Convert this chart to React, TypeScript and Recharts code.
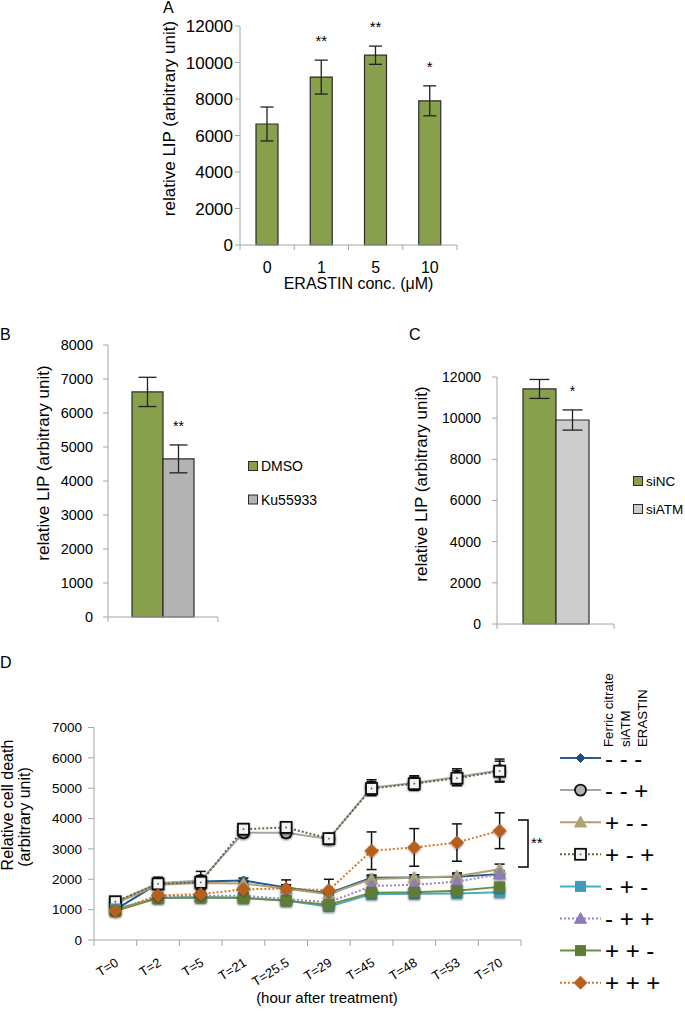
import React from 'react';
import { BarChart, Bar, XAxis, YAxis, ErrorBar, LabelList, Legend, LineChart, Line } from 'recharts';

const FONT = '"Liberation Sans", Arial, Helvetica, sans-serif';
const AXIS = '#A6A6A6';
const INK = '#000000';
const GREEN = '#88A04B';
const BAR_EDGE = '#2B2B2B';

// ---------- Panel A ----------
const erastinConc = ['0', '1', '5', '10'];
const lipByErastin = [6630, 9200, 10400, 7900];
const lipByErastinErr = [930, 930, 500, 820];
const lipByErastinSig = ['', '**', '**', '*'];
const lipTicksA = [0, 2000, 4000, 6000, 8000, 10000, 12000];

// ---------- Panel B ----------
const inhibitorGroups = ['DMSO', 'Ku55933'];
const lipByInhibitor = [6620, 4650];
const lipByInhibitorErr = [430, 410];
const lipByInhibitorSig = ['', '**'];
const lipTicksB = [0, 1000, 2000, 3000, 4000, 5000, 6000, 7000, 8000];

// ---------- Panel C ----------
const sirnaGroups = ['siNC', 'siATM'];
const lipBySirna = [11420, 9910];
const lipBySirnaErr = [460, 490];
const lipBySirnaSig = ['', '*'];
const lipTicksC = [0, 2000, 4000, 6000, 8000, 10000, 12000];

// ---------- Panel D ----------
const timePoints = ['T=0', 'T=2', 'T=5', 'T=21', 'T=25.5', 'T=29', 'T=45', 'T=48', 'T=53', 'T=70'];
const deathTicks = [0, 1000, 2000, 3000, 4000, 5000, 6000, 7000];
const conditionLabels = ['- - -', '- - +', '+ - -', '+ - +', '- + -', '- + +', '+ + -', '+ + +'];
const deathNone = [1000, 1860, 1930, 1960, 1730, 1540, 2050, 2060, 2080, 2170];
const deathNoneErr = [50, 90, 90, 80, 90, 70, 90, 90, 90, 100];
const deathErastin = [1250, 1870, 1960, 3530, 3530, 3330, 5020, 5170, 5370, 5580];
const deathErastinErr = [110, 200, 300, 150, 150, 130, 260, 240, 270, 380];
const deathFerric = [1200, 1820, 1880, 1860, 1690, 1510, 2010, 2050, 2100, 2330];
const deathFerricErr = [60, 90, 90, 80, 80, 80, 100, 100, 110, 170];
const deathFerricErastin = [1260, 1850, 1900, 3650, 3710, 3340, 4990, 5150, 5330, 5560];
const deathFerricErastinErr = [100, 170, 220, 180, 170, 150, 230, 220, 250, 330];
const deathSiatm = [1020, 1380, 1410, 1390, 1300, 1100, 1510, 1520, 1530, 1570];
const deathSiatmErr = [40, 60, 60, 60, 60, 60, 60, 60, 60, 60];
const deathSiatmErastin = [990, 1440, 1460, 1460, 1350, 1240, 1780, 1820, 1920, 2170];
const deathSiatmErastinErr = [40, 70, 70, 70, 70, 70, 80, 80, 80, 90];
const deathFerricSiatm = [950, 1380, 1400, 1380, 1290, 1160, 1560, 1570, 1620, 1750];
const deathFerricSiatmErr = [40, 60, 60, 60, 60, 60, 70, 70, 70, 80];
const deathAll = [960, 1470, 1510, 1670, 1690, 1640, 2940, 3050, 3210, 3600];
const deathAllErr = [60, 80, 90, 110, 290, 360, 620, 620, 615, 590];

const seriesD = [
  { key: 'none', values: deathNone, errs: deathNoneErr },
  { key: 'erastin', values: deathErastin, errs: deathErastinErr },
  { key: 'ferric', values: deathFerric, errs: deathFerricErr },
  { key: 'ferricErastin', values: deathFerricErastin, errs: deathFerricErastinErr },
  { key: 'siatm', values: deathSiatm, errs: deathSiatmErr },
  { key: 'siatmErastin', values: deathSiatmErastin, errs: deathSiatmErastinErr },
  { key: 'ferricSiatm', values: deathFerricSiatm, errs: deathFerricSiatmErr },
  { key: 'all', values: deathAll, errs: deathAllErr },
];

// styles (separate from data)
const stylesD: any[] = [
  { line: '#2A5A8C', dash: undefined, shape: 'diamond', size: 4.5, fill: '#1F4E79', stroke: '#1F4E79', sw: 1 },
  { line: '#A5A5A5', dash: undefined, shape: 'circle', size: 5.5, fill: '#B4B4B4', stroke: '#111111', sw: 1.8 },
  { line: '#ADA274', dash: undefined, shape: 'triangle', size: 6, fill: '#ADA274', stroke: '#ADA274', sw: 1 },
  { line: '#6E6446', dash: '2 2', shape: 'openSquare', size: 5.5, fill: '#F4F4F4', stroke: '#111111', sw: 1.8 },
  { line: '#4BACC6', dash: undefined, shape: 'square', size: 5, fill: '#3E9CB8', stroke: '#3E9CB8', sw: 1 },
  { line: '#9A86C2', dash: '2 2', shape: 'triangle', size: 6, fill: '#8F7BBA', stroke: '#8F7BBA', sw: 1 },
  { line: '#6E8F44', dash: undefined, shape: 'square', size: 5, fill: '#5E7D34', stroke: '#5E7D34', sw: 1 },
  { line: '#D27A2E', dash: '2 2', shape: 'diamond', size: 6.5, fill: '#B95F1E', stroke: '#B95F1E', sw: 1 },
];

// ---------- tables ----------
const tableA = erastinConc.map((c, i) => ({ conc: c, lip: lipByErastin[i], err: lipByErastinErr[i] }));
const tableB = [{
  grp: 'B',
  [inhibitorGroups[0]]: lipByInhibitor[0], e0: lipByInhibitorErr[0],
  [inhibitorGroups[1]]: lipByInhibitor[1], e1: lipByInhibitorErr[1],
}];
const tableC = [{
  grp: 'C',
  [sirnaGroups[0]]: lipBySirna[0], e0: lipBySirnaErr[0],
  [sirnaGroups[1]]: lipBySirna[1], e1: lipBySirnaErr[1],
}];
const tableD = timePoints.map((t, j) => {
  const row: any = { time: t };
  seriesD.forEach((s) => {
    row[s.key] = s.values[j];
    row[s.key + 'Err'] = s.errs[j];
  });
  return row;
});

// ---------- helpers ----------
const makeSigLabel = (sigs: string[], errs: number[], fontSize: number) => (props: any) => {
  const vb = props.viewBox || {};
  const x = props.x ?? vb.x;
  const y = props.y ?? vb.y;
  const w = props.width ?? vb.width;
  const h = props.height ?? vb.height;
  const idx = props.index ?? 0;
  const v = Number(props.value);
  const s = sigs[idx];
  if (!s || !v || x == null || y == null) return null;
  const pxPer = h / v;
  const errTop = y - errs[idx] * pxPer;
  return (
    <text key={'sig' + idx} x={x + w / 2} y={errTop - 14} textAnchor="middle" fontSize={fontSize} fill={INK} fontFamily={FONT}>
      {s}
    </text>
  );
};

const makeBandTick = (band: number, n: number, tickSize: number, margin: number, fontSize: number, showText: boolean) =>
  (props: any) => {
    const { x, y, payload, index } = props;
    const axisY = y - tickSize - margin;
    const half = band / 2;
    return (
      <g>
        <line x1={x - half} x2={x - half} y1={axisY} y2={axisY + tickSize} stroke={AXIS} />
        {index === n - 1 && <line x1={x + half} x2={x + half} y1={axisY} y2={axisY + tickSize} stroke={AXIS} />}
        {showText && (
          <text x={x} y={y} dy="0.71em" textAnchor="middle" fontSize={fontSize} fill={INK} fontFamily={FONT}>
            {payload.value}
          </text>
        )}
      </g>
    );
  };

function Marker(props: any) {
  const { shape, cx, cy, size, fill, stroke, sw, filter } = props;
  if (cx == null || cy == null) return null;
  if (shape === 'diamond') {
    return <path d={`M${cx},${cy - size}L${cx + size},${cy}L${cx},${cy + size}L${cx - size},${cy}Z`} fill={fill} stroke={stroke} strokeWidth={sw} filter={filter} />;
  }
  if (shape === 'circle') {
    return <circle cx={cx} cy={cy} r={size} fill={fill} stroke={stroke} strokeWidth={sw} filter={filter} />;
  }
  if (shape === 'triangle') {
    return <path d={`M${cx},${cy - size}L${cx + size},${cy + size * 0.8}L${cx - size},${cy + size * 0.8}Z`} fill={fill} stroke={stroke} strokeWidth={sw} filter={filter} />;
  }
  if (shape === 'openSquare') {
    return (
      <g filter={filter}>
        <rect x={cx - size} y={cy - size} width={size * 2} height={size * 2} fill={fill} stroke={stroke} strokeWidth={sw} />
        <circle cx={cx} cy={cy} r={0.9} fill="#555" />
      </g>
    );
  }
  return <rect x={cx - size} y={cy - size} width={size * 2} height={size * 2} fill={fill} stroke={stroke} strokeWidth={sw} filter={filter} />;
}

// ---------- Panel A ----------
const A_W = 685, A_H = 300;
const A_MARGIN = { top: 26, right: 228, bottom: 25, left: 160 };
const A_YW = 80;
const A_BAND = (A_W - A_MARGIN.left - A_YW - A_MARGIN.right) / erastinConc.length;

function PanelA() {
  return (
    <BarChart width={A_W} height={A_H} data={tableA} margin={A_MARGIN}>
      <XAxis dataKey="conc" height={30} axisLine={{ stroke: AXIS }} tickLine={false} tickSize={5} tickMargin={12} interval={0}
        tick={makeBandTick(A_BAND, erastinConc.length, 5, 12, 16, true)} />
      <YAxis domain={[0, 12000]} ticks={lipTicksA} width={A_YW} interval={0} tickSize={5} tickMargin={2}
        axisLine={{ stroke: AXIS }} tickLine={{ stroke: AXIS }} tick={{ fontSize: 17, fill: INK, fontFamily: FONT }} />
      <Bar dataKey="lip" fill={GREEN} stroke={BAR_EDGE} strokeWidth={1.2} barSize={22} isAnimationActive={false}>
        <ErrorBar dataKey="err" width={6.5} stroke="#222" strokeWidth={1.3} direction="y" />
        <LabelList dataKey="lip" content={makeSigLabel(lipByErastinSig, lipByErastinErr, 15)} />
      </Bar>
    </BarChart>
  );
}

// ---------- Panel B ----------
const B_W = 360, B_H = 350;
const B_MARGIN = { top: 55, right: 142, bottom: 15, left: 48 };
const B_YW = 60;
const B_BAND = B_W - B_MARGIN.left - B_YW - B_MARGIN.right;
const B_COLORS = [GREEN, '#B3B3B3'];

const swatchLegend = (labels: string[], colors: string[], rowGap: number, fontSize: number) => () => (
  <svg width={110} height={rowGap + 24} style={{ overflow: 'visible', display: 'block' }}>
    {labels.map((l, i) => (
      <g key={l}>
        <rect x={0.5} y={6.5 + i * rowGap} width={9} height={9} fill={colors[i]} stroke={BAR_EDGE} strokeWidth={1} />
        <text x={13} y={11 + i * rowGap} dominantBaseline="central" fontSize={fontSize} fill={INK} fontFamily={FONT}>{l}</text>
      </g>
    ))}
  </svg>
);

function PanelB() {
  return (
    <BarChart width={B_W} height={B_H} data={tableB} margin={B_MARGIN} barGap={0}>
      <XAxis dataKey="grp" height={8} axisLine={{ stroke: AXIS }} tickLine={false} tickSize={5} tickMargin={0} interval={0}
        tick={makeBandTick(B_BAND, 1, 5, 0, 12, false)} />
      <YAxis domain={[0, 8000]} ticks={lipTicksB} width={B_YW} interval={0} tickSize={5} tickMargin={10}
        axisLine={{ stroke: AXIS }} tickLine={{ stroke: AXIS }} tick={{ fontSize: 14.5, fill: INK, fontFamily: FONT }} />
      <Bar dataKey={inhibitorGroups[0]} name={inhibitorGroups[0]} fill={B_COLORS[0]} stroke={BAR_EDGE} strokeWidth={1.2} barSize={31} isAnimationActive={false}>
        <ErrorBar dataKey="e0" width={9} stroke="#222" strokeWidth={1.3} direction="y" />
      </Bar>
      <Bar dataKey={inhibitorGroups[1]} name={inhibitorGroups[1]} fill={B_COLORS[1]} stroke={BAR_EDGE} strokeWidth={1.2} barSize={31} isAnimationActive={false}>
        <ErrorBar dataKey="e1" width={9} stroke="#222" strokeWidth={1.3} direction="y" />
        <LabelList dataKey={inhibitorGroups[1]} content={makeSigLabel([lipByInhibitorSig[1]], [lipByInhibitorErr[1]], 14)} />
      </Bar>
      <Legend layout="vertical" align="center" verticalAlign="middle"
        wrapperStyle={{ left: 248, top: 165, width: 110, height: 60 }}
        content={swatchLegend(inhibitorGroups, B_COLORS, 33.5, 14)} />
    </BarChart>
  );
}

// ---------- Panel C ----------
const C_W = 325, C_H = 350;
const C_MARGIN = { top: 87, right: 71, bottom: 10, left: 77 };
const C_YW = 60;
const C_BAND = C_W - C_MARGIN.left - C_YW - C_MARGIN.right;
const C_COLORS = [GREEN, '#CCCCCC'];

function PanelC() {
  return (
    <BarChart width={C_W} height={C_H} data={tableC} margin={C_MARGIN} barGap={0}>
      <XAxis dataKey="grp" height={6} axisLine={{ stroke: AXIS }} tickLine={false} tickSize={5} tickMargin={0} interval={0}
        tick={makeBandTick(C_BAND, 1, 5, 0, 12, false)} />
      <YAxis domain={[0, 12000]} ticks={lipTicksC} width={C_YW} interval={0} tickSize={5} tickMargin={11}
        axisLine={{ stroke: AXIS }} tickLine={{ stroke: AXIS }} tick={{ fontSize: 14, fill: INK, fontFamily: FONT }} />
      <Bar dataKey={sirnaGroups[0]} name={sirnaGroups[0]} fill={C_COLORS[0]} stroke={BAR_EDGE} strokeWidth={1.2} barSize={33} isAnimationActive={false}>
        <ErrorBar dataKey="e0" width={10} stroke="#222" strokeWidth={1.3} direction="y" />
      </Bar>
      <Bar dataKey={sirnaGroups[1]} name={sirnaGroups[1]} fill={C_COLORS[1]} stroke={BAR_EDGE} strokeWidth={1.2} barSize={33} isAnimationActive={false}>
        <ErrorBar dataKey="e1" width={10} stroke="#222" strokeWidth={1.3} direction="y" />
        <LabelList dataKey={sirnaGroups[1]} content={makeSigLabel([lipBySirnaSig[1]], [lipBySirnaErr[1]], 14)} />
      </Bar>
      <Legend layout="vertical" align="center" verticalAlign="middle"
        wrapperStyle={{ left: 273, top: 180, width: 52, height: 60 }}
        content={swatchLegend(sirnaGroups, C_COLORS, 28, 13.5)} />
    </BarChart>
  );
}

// ---------- Panel D ----------
const D_W = 685, D_H = 393;
const D_MARGIN = { top: 107.5, right: 164, bottom: 43, left: 38 };
const D_YW = 56;
const D_PLOT_W = D_W - D_MARGIN.left - D_YW - D_MARGIN.right;
const D_HALF = D_PLOT_W / timePoints.length / 2;

const timeTick = (props: any) => {
  const { x, y, payload, index } = props;
  const axisY = y - 6;
  return (
    <g>
      <line x1={x - D_HALF} x2={x - D_HALF} y1={axisY} y2={axisY + 6} stroke={AXIS} />
      {index === timePoints.length - 1 && <line x1={x + D_HALF} x2={x + D_HALF} y1={axisY} y2={axisY + 6} stroke={AXIS} />}
      <text x={x + 4} y={axisY + 25} transform={`rotate(-32, ${x + 4}, ${axisY + 25})`} textAnchor="end" fontSize={13} fill={INK} fontFamily={FONT}>
        {payload.value}
      </text>
    </g>
  );
};

const DLegend = () => (
  <svg width={135} height={350} style={{ overflow: 'visible', display: 'block' }} fontFamily={FONT}>
    <text transform="translate(63,97) rotate(-90)" fontSize={13.3} fill={INK}>Ferric citrate</text>
    <text transform="translate(79.5,97) rotate(-90)" fontSize={13.3} fill={INK}>siATM</text>
    <text transform="translate(96.5,97) rotate(-90)" fontSize={13.3} fill={INK}>ERASTIN</text>
    {seriesD.map((s, i) => {
      const st = stylesD[i];
      const y = 108 + 32.1 * i;
      return (
        <g key={s.key}>
          <line x1={10} x2={51} y1={y} y2={y} stroke={st.line} strokeWidth={2} strokeDasharray={st.dash} />
          <Marker shape={st.shape} cx={30.5} cy={y} size={st.size} fill={st.fill} stroke={st.stroke} sw={st.sw} />
          <text x={55} y={y} dominantBaseline="central" fontSize={24} fill={INK}>{conditionLabels[i]}</text>
        </g>
      );
    })}
  </svg>
);

function PanelD() {
  return (
    <LineChart width={D_W} height={D_H} data={tableD} margin={D_MARGIN}>
      <XAxis dataKey="time" height={30} padding={{ left: D_HALF, right: D_HALF }} axisLine={{ stroke: AXIS }} tickLine={false}
        tickSize={6} tickMargin={0} interval={0} tick={timeTick} />
      <YAxis domain={[0, 7000]} ticks={deathTicks} width={D_YW} interval={0} tickSize={6} tickMargin={6}
        axisLine={{ stroke: AXIS }} tickLine={{ stroke: AXIS }} tick={{ fontSize: 13.5, fill: INK, fontFamily: FONT }} />
      {seriesD.map((s, i) => {
        const st = stylesD[i];
        return (
          <Line key={s.key} dataKey={s.key} name={conditionLabels[i]} stroke={st.line} strokeWidth={2}
            strokeDasharray={st.dash} isAnimationActive={false} activeDot={false}
            dot={(p: any) => (
              <Marker key={`${s.key}-${p.index}`} shape={st.shape} cx={p.cx} cy={p.cy} size={st.size}
                fill={st.fill} stroke={st.stroke} sw={st.sw} filter="url(#mshadow)" />
            )}>
            <ErrorBar dataKey={s.key + 'Err'} width={5} stroke="#111" strokeWidth={1.5} direction="y" />
          </Line>
        );
      })}
      <Legend layout="vertical" align="center" verticalAlign="middle"
        wrapperStyle={{ left: 550, top: 30, width: 135, height: 350 }} content={DLegend} />
    </LineChart>
  );
}

function Overlay() {
  return (
    <svg width={685} height={1013} style={{ position: 'absolute', left: 0, top: 0, pointerEvents: 'none' }} fontFamily={FONT}>
      <defs>
        <filter id="mshadow" x="-60%" y="-60%" width="220%" height="220%">
          <feDropShadow dx="0" dy="1" stdDeviation="1.2" floodColor="#000" floodOpacity="0.5" />
        </filter>
      </defs>
      <text x={163} y={13} fontSize={16} fill={INK}>A</text>
      <text x={0} y={340} fontSize={16} fill={INK}>B</text>
      <text x={409} y={340} fontSize={16} fill={INK}>C</text>
      <text x={0} y={668} fontSize={16} fill={INK}>D</text>
      <text transform="translate(175,118.5) rotate(-90)" textAnchor="middle" fontSize={17} fill={INK}>relative LIP (arbitrary unit)</text>
      <text transform="translate(49,463) rotate(-90)" textAnchor="middle" fontSize={17} fill={INK}>relative LIP (arbitrary unit)</text>
      <text transform="translate(427,484) rotate(-90)" textAnchor="middle" fontSize={17} fill={INK}>relative LIP (arbitrary unit)</text>
      <text x={358.5} y={289} textAnchor="middle" fontSize={16} fill={INK}>ERASTIN conc. (μM)</text>
      <text transform="translate(13,805) rotate(-90)" textAnchor="middle" fontSize={16} fill={INK}>Relative cell death</text>
      <text transform="translate(30,817) rotate(-90)" textAnchor="middle" fontSize={16} fill={INK}>(arbitrary unit)</text>
      <text x={327} y={1003} textAnchor="middle" fontSize={15} fill={INK}>(hour after treatment)</text>
      <path d="M518,820H528V867H518" fill="none" stroke="#000" strokeWidth={1.5} />
      <text x={531} y={848} fontSize={15} fill={INK}>**</text>
    </svg>
  );
}

export default function App() {
  return (
    <div style={{ position: 'absolute', left: 0, top: 0, width: 685, height: 1013, background: '#fff', fontFamily: FONT, overflow: 'hidden' }}>
      <div style={{ position: 'absolute', left: 0, top: 0 }}><PanelA /></div>
      <div style={{ position: 'absolute', left: 0, top: 290 }}><PanelB /></div>
      <div style={{ position: 'absolute', left: 360, top: 290 }}><PanelC /></div>
      <div style={{ position: 'absolute', left: 0, top: 620 }}><PanelD /></div>
      <Overlay />
    </div>
  );
}
